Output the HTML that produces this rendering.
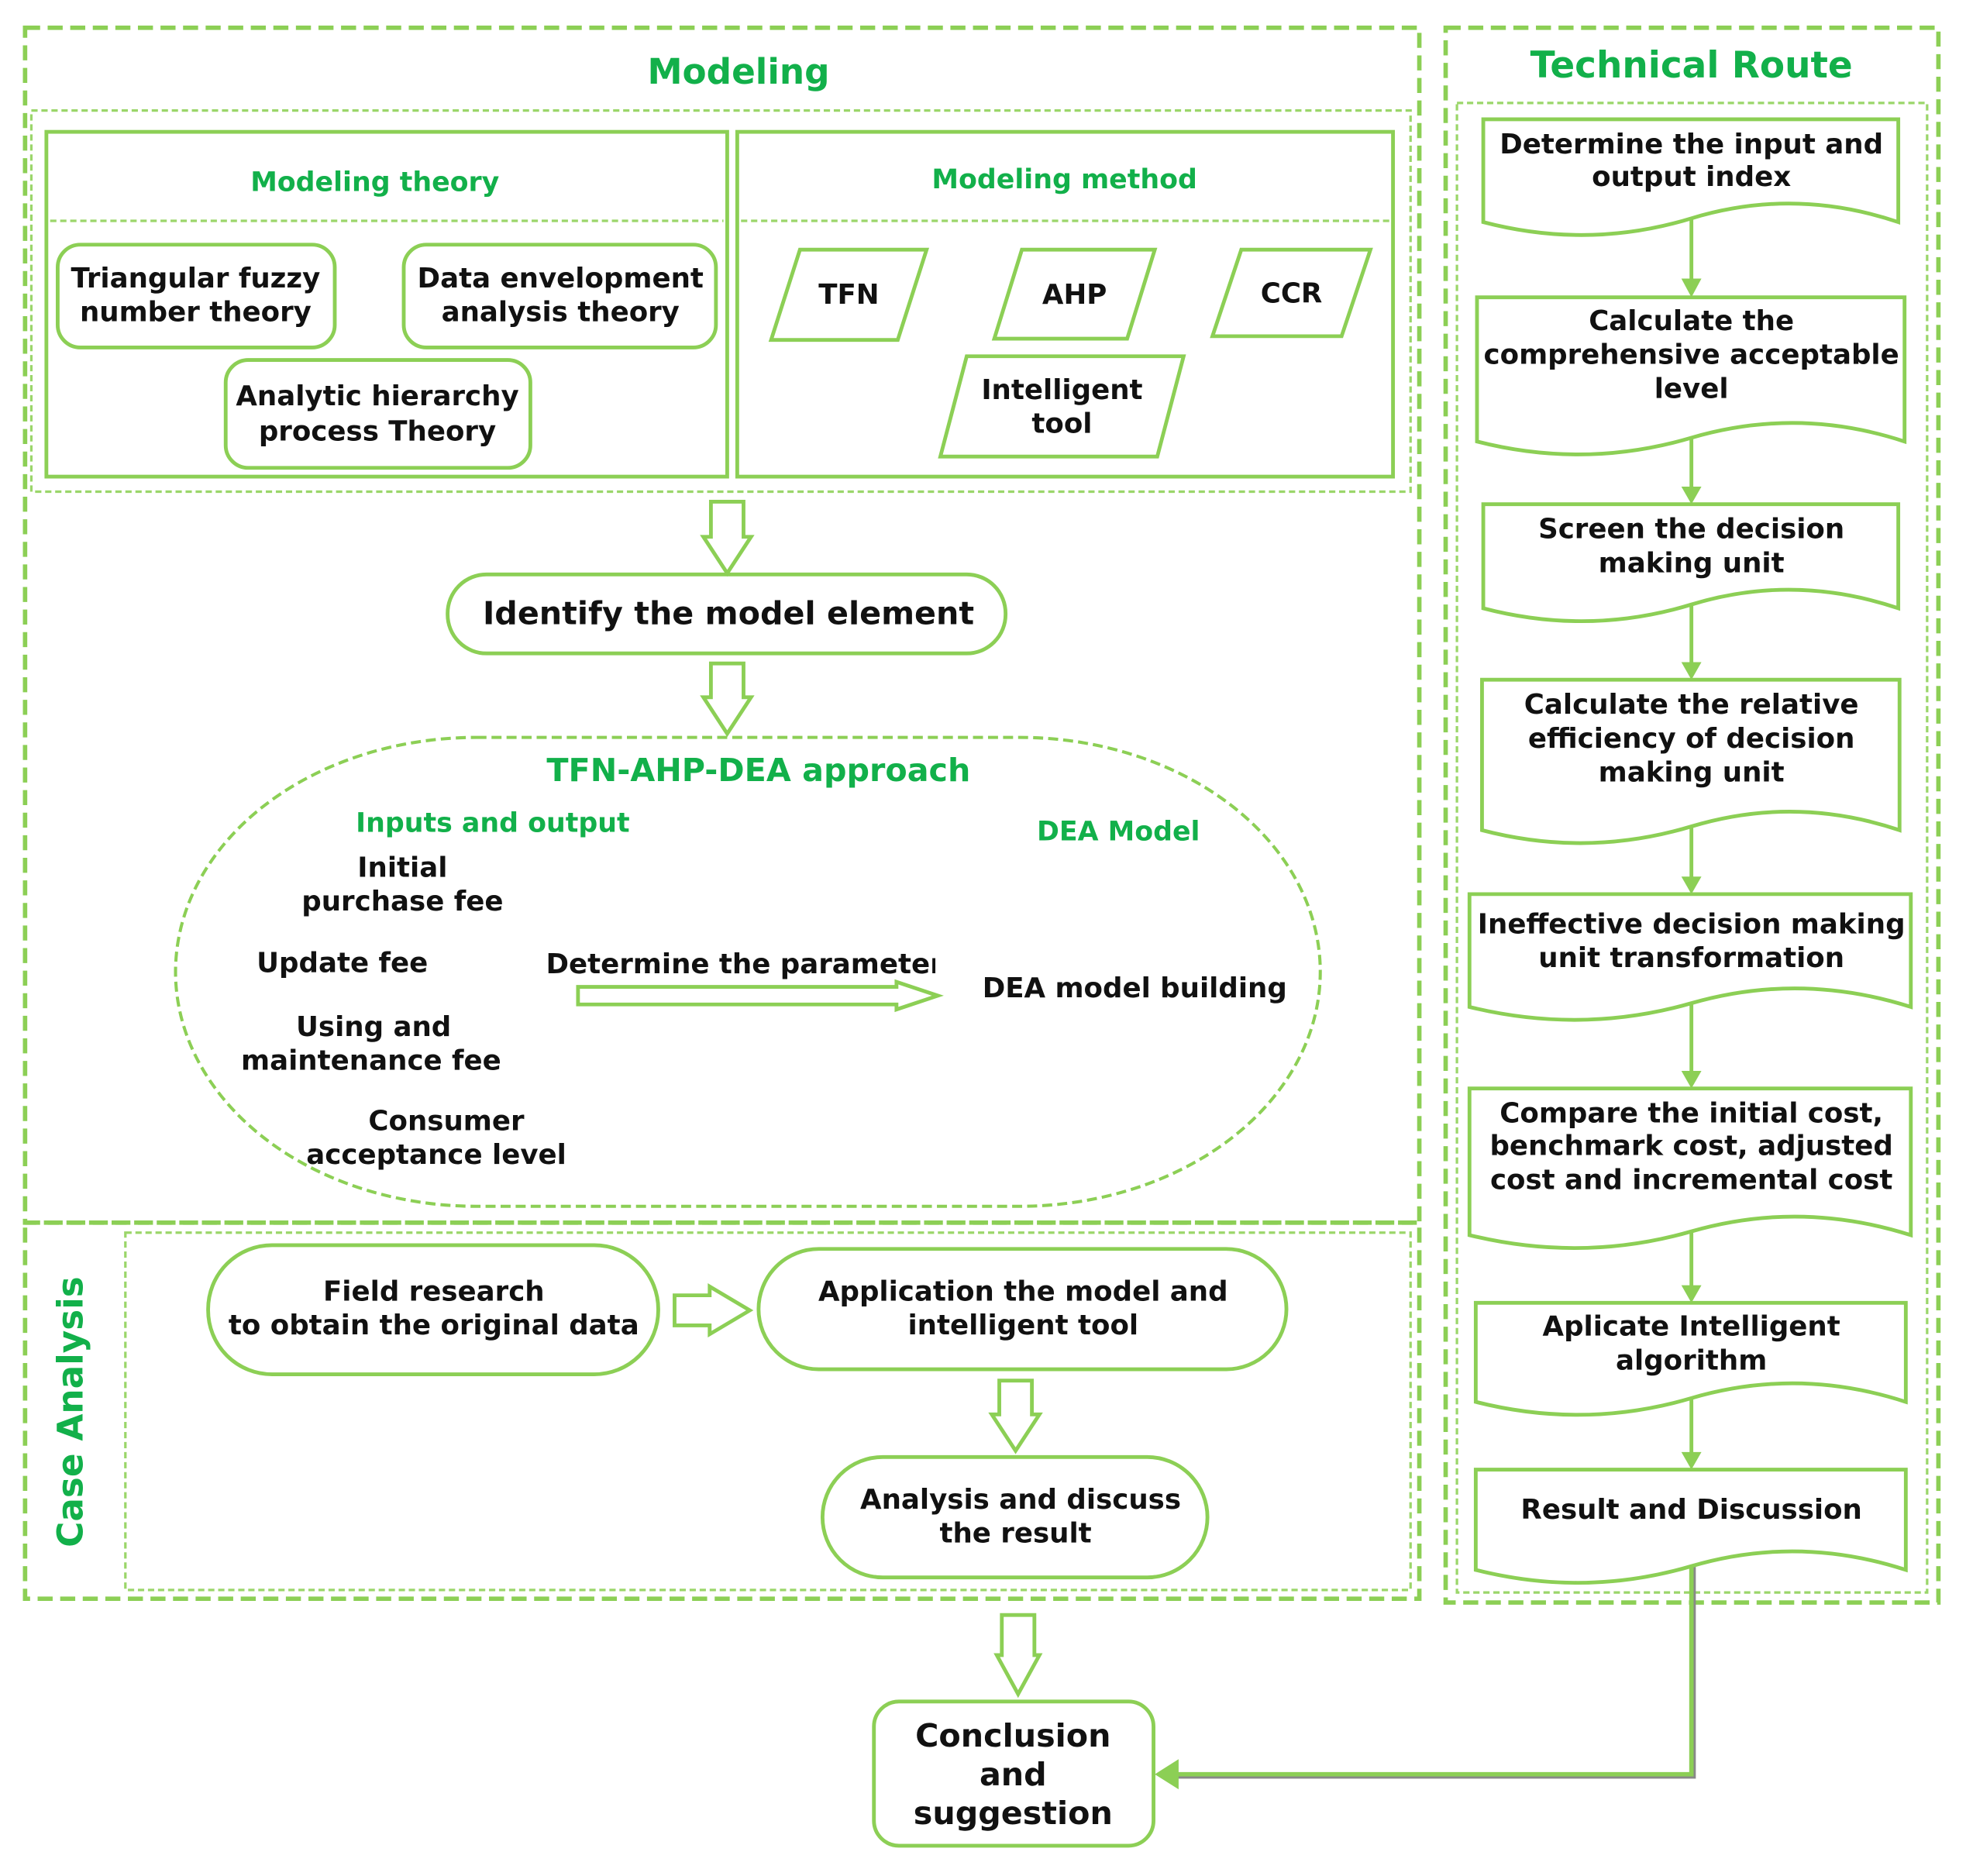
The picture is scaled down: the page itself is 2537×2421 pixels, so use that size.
<!DOCTYPE html>
<html><head><meta charset="utf-8">
<style>
html,body{margin:0;padding:0;background:#fff;}
svg{display:block;}
text{font-family:"DejaVu Sans","Liberation Sans",sans-serif;font-weight:bold;}
.b{fill:#111;font-size:22px;text-anchor:middle;dominant-baseline:middle;}
.g{fill:#12b04a;text-anchor:middle;dominant-baseline:middle;}
.s{fill:none;stroke:#8ccf55;stroke-width:3;}
.sw{fill:#fff;stroke:#8ccf55;stroke-width:3;}
.d{fill:none;stroke:#8ccf55;stroke-width:3.5;stroke-dasharray:12 6;}
.dt{fill:none;stroke:#9bd66a;stroke-width:2;stroke-dasharray:5 3;}
</style></head><body>
<svg width="2537" height="2421" viewBox="0 0 1568 1496" xmlns="http://www.w3.org/2000/svg">
<rect width="1568" height="1496" fill="#fff"/>
<rect x="20" y="22" width="1112" height="953" class="d"/>
<rect x="25" y="88" width="1100" height="304" class="dt"/>
<text x="589" y="59" class="g" style="font-size:28px">Modeling</text>
<rect x="37" y="105" width="543" height="275" class="s"/>
<line x1="40" y1="176" x2="577" y2="176" class="dt" stroke-width="3"/>
<text x="299" y="146" class="g" style="font-size:21.5px">Modeling theory</text>
<rect x="46" y="195" width="221" height="82" rx="18" class="s" stroke="#a5d97c"/>
<text x="156" y="223" class="b">Triangular fuzzy</text>
<text x="156" y="250" class="b">number theory</text>
<rect x="322" y="195" width="249" height="82" rx="18" class="s" stroke="#a5d97c"/>
<text x="447" y="223" class="b">Data envelopment</text>
<text x="447" y="250" class="b">analysis theory</text>
<rect x="180" y="287" width="243" height="86" rx="18" class="s"/>
<text x="301" y="317" class="b">Analytic hierarchy</text>
<text x="301" y="345" class="b">process Theory</text>
<rect x="588" y="105" width="523" height="275" class="s"/>
<line x1="591" y1="176" x2="1108" y2="176" class="dt" stroke-width="3"/>
<text x="849" y="144" class="g" style="font-size:21.5px">Modeling method</text>
<polygon points="615,271 638,199 739,199 716,271" class="s"/>
<text x="677" y="236" class="b">TFN</text>
<polygon points="793,270 815,199 921,199 899,270" class="s"/>
<text x="857" y="236" class="b">AHP</text>
<polygon points="967,268 990,199 1093,199 1070,268" class="s"/>
<text x="1030" y="235" class="b">CCR</text>
<polygon points="750,364 771,284 944,284 923,364" class="s"/>
<text x="847" y="312" class="b">Intelligent</text>
<text x="847" y="339" class="b">tool</text>
<polygon points="567,400 593,400 593,428 599,428 580,457 561,428 567,428" class="s" stroke-width="2.5"/>
<rect x="357" y="458" width="445" height="63" rx="31" class="s"/>
<text x="581" y="491" class="b" style="font-size:25.5px">Identify the model element</text>
<polygon points="567,529 593,529 593,556 599,556 580,585 561,556 567,556" class="s" stroke-width="2.5"/>
<rect x="140" y="588" width="913" height="374" rx="240" ry="187" fill="none" stroke="#8ccf55" stroke-width="2.5" stroke-dasharray="8 4"/>
<text x="605" y="616" class="g" style="font-size:25.5px">TFN-AHP-DEA approach</text>
<text x="393" y="657" class="g" style="font-size:21.5px">Inputs and output</text>
<text x="892" y="664" class="g" style="font-size:21.5px">DEA Model</text>
<text x="321" y="693" class="b">Initial</text>
<text x="321" y="720" class="b">purchase fee</text>
<text x="273" y="769" class="b">Update fee</text>
<text x="298" y="820" class="b">Using and</text>
<text x="296" y="847" class="b">maintenance fee</text>
<text x="356" y="895" class="b">Consumer</text>
<text x="348" y="922" class="b">acceptance level</text>
<svg x="430" y="750" width="316" height="40" overflow="hidden"><text x="164" y="20" class="b">Determine the parameter</text></svg>
<polygon points="461,787 715,787 715,783 748,794 715,805 715,801 461,801" class="s" stroke-width="2.5"/>
<text x="905" y="789" class="b">DEA model building</text>
<rect x="20" y="975" width="1112" height="300" class="d"/>
<rect x="100" y="983" width="1025" height="285" class="dt"/>
<text x="58" y="1126" class="g" style="font-size:28px" transform="rotate(-90 58 1126)">Case Analysis</text>
<rect x="166" y="993" width="359" height="103" rx="51" class="s"/>
<text x="346" y="1031" class="b">Field research</text>
<text x="346" y="1058" class="b">to obtain the original data</text>
<polygon points="538,1033 566,1033 566,1026 598,1045 566,1064 566,1057 538,1057" class="s"/>
<rect x="605" y="996" width="421" height="96" rx="48" class="s"/>
<text x="816" y="1031" class="b">Application the model and</text>
<text x="816" y="1058" class="b">intelligent tool</text>
<polygon points="797,1101 823,1101 823,1128 829,1128 810,1157 791,1128 797,1128" class="s"/>
<rect x="656" y="1162" width="307" height="96" rx="48" class="s"/>
<text x="814" y="1197" class="b">Analysis and discuss</text>
<text x="810" y="1224" class="b">the result</text>
<polygon points="799,1288 825,1288 825,1320 829,1320 812,1351 795,1320 799,1320" class="s"/>
<rect x="697" y="1357" width="223" height="115" rx="20" class="s" stroke-width="3.5"/>
<text x="808" y="1386" class="b" style="font-size:25.5px">Conclusion</text>
<text x="808" y="1417" class="b" style="font-size:25.5px">and</text>
<text x="808" y="1448" class="b" style="font-size:25.5px">suggestion</text>
<rect x="1153" y="22" width="393" height="1256" class="d"/>
<rect x="1162" y="82" width="375" height="1188" class="dt"/>
<text x="1349" y="54" class="g" style="font-size:29px">Technical Route</text>
<g stroke="#8ccf55" stroke-width="3" fill="#8ccf55">
<line x1="1349" y1="172" x2="1349" y2="226"/><polygon points="1341,222 1357,222 1349,237" stroke="none"/>
<line x1="1349" y1="345" x2="1349" y2="391"/><polygon points="1341,388 1357,388 1349,402" stroke="none"/>
<line x1="1349" y1="478" x2="1349" y2="531"/><polygon points="1341,528 1357,528 1349,542" stroke="none"/>
<line x1="1349" y1="655" x2="1349" y2="702"/><polygon points="1341,699 1357,699 1349,713" stroke="none"/>
<line x1="1349" y1="795" x2="1349" y2="857"/><polygon points="1341,854 1357,854 1349,868" stroke="none"/>
<line x1="1349" y1="978" x2="1349" y2="1028"/><polygon points="1341,1025 1357,1025 1349,1039" stroke="none"/>
<line x1="1349" y1="1112" x2="1349" y2="1161"/><polygon points="1341,1158 1357,1158 1349,1172" stroke="none"/>
</g>
<polyline points="1351,1248 1351,1417 934,1417" fill="none" stroke="#888" stroke-width="3"/>
<polyline points="1349,1248 1349,1415 934,1415" fill="none" stroke="#8ccf55" stroke-width="3.5"/>
<polygon points="921,1415 940,1403 940,1427" fill="#8ccf55"/>
<path d="M1183,177 V95 H1514 V177 Q1431,149 1349,174 T1183,177 Z" class="sw"/>
<text x="1349" y="116" class="b">Determine the input and</text>
<text x="1349" y="142" class="b">output index</text>
<path d="M1178,352 V237 H1519 V352 Q1434,324 1349,349 T1178,352 Z" class="sw"/>
<text x="1349" y="257" class="b">Calculate the</text>
<text x="1349" y="284" class="b">comprehensive acceptable</text>
<text x="1349" y="311" class="b">level</text>
<path d="M1183,485 V402 H1514 V485 Q1431,457 1349,482 T1183,485 Z" class="sw"/>
<text x="1349" y="423" class="b">Screen the decision</text>
<text x="1349" y="450" class="b">making unit</text>
<path d="M1182,662 V542 H1515 V662 Q1432,634 1349,659 T1182,662 Z" class="sw"/>
<text x="1349" y="563" class="b">Calculate the relative</text>
<text x="1349" y="590" class="b">efficiency of decision</text>
<text x="1349" y="617" class="b">making unit</text>
<path d="M1172,803 V713 H1524 V803 Q1436,775 1349,800 T1172,803 Z" class="sw"/>
<text x="1349" y="738" class="b">Ineffective decision making</text>
<text x="1349" y="765" class="b">unit transformation</text>
<path d="M1172,985 V868 H1524 V985 Q1436,957 1349,982 T1172,985 Z" class="sw"/>
<text x="1349" y="889" class="b">Compare the initial cost,</text>
<text x="1349" y="915" class="b">benchmark cost, adjusted</text>
<text x="1349" y="942" class="b">cost and incremental cost</text>
<path d="M1177,1118 V1039 H1520 V1118 Q1434,1090 1349,1115 T1177,1118 Z" class="sw"/>
<text x="1349" y="1059" class="b">Aplicate Intelligent</text>
<text x="1349" y="1086" class="b">algorithm</text>
<path d="M1177,1252 V1172 H1520 V1252 Q1434,1224 1349,1249 T1177,1252 Z" class="sw"/>
<text x="1349" y="1205" class="b">Result and Discussion</text>
</svg>
</body></html>
